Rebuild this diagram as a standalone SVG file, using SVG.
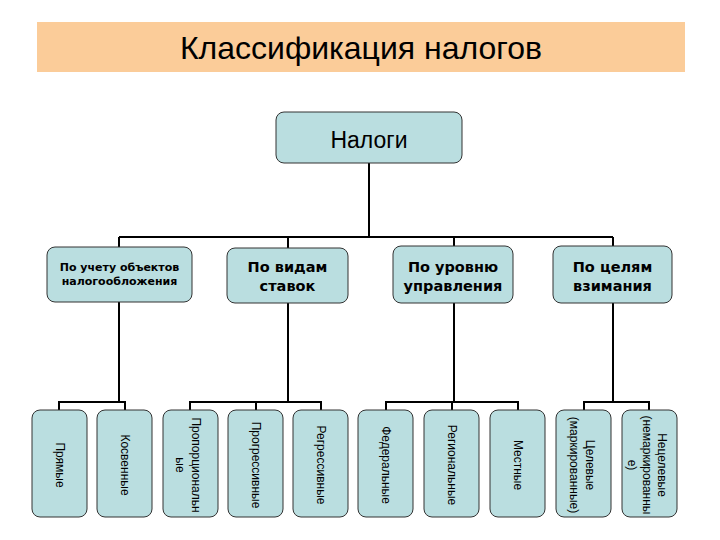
<svg xmlns="http://www.w3.org/2000/svg" width="720" height="540" viewBox="0 0 720 540">
<style>
.box{fill:#BADEE0;stroke:#333;stroke-width:1}
.l2{font-family:"DejaVu Sans",Verdana,sans-serif;font-weight:bold;fill:#000;text-anchor:middle}
.l3{font-family:"Liberation Sans",Arial,sans-serif;font-size:12px;fill:#000;text-anchor:middle}
.conn{fill:none;stroke:#000;stroke-width:2}
</style>
<rect width="720" height="540" fill="#fff"/>
<g id="title">
<rect x="37" y="22" width="648" height="50" fill="#FBCC99"/>
<text x="361" y="59" font-family="Liberation Sans, Arial, sans-serif" font-size="32" text-anchor="middle" fill="#000">Классификация налогов</text>
</g>
<g id="connectors">
<path class="conn" d="M369 163V237M119 237H613M119 237V247M288 237V248M454 237V246M613 237V246"/>
<path class="conn" d="M119 302V402M59 410V402H125V410"/>
<path class="conn" d="M288 303V402M190 410V402H321V410M256 402V410"/>
<path class="conn" d="M454 303V402M386 410V402H518V410M452 402V410"/>
<path class="conn" d="M613 303V402M584 410V402H649V410"/>
</g>
<g id="n-root">
<rect class="box" x="276" y="112" width="186" height="51" rx="8"/>
<text x="369" y="148" font-family="Liberation Sans, Arial, sans-serif" font-size="23" text-anchor="middle" fill="#000">Налоги</text>
</g>
<g id="n-objects">
<rect class="box" x="47" y="247" width="145" height="55" rx="8"/>
<text class="l2" x="119.5" y="271" font-size="11">По учету объектов</text>
<text class="l2" x="119.5" y="285" font-size="11">налогообложения</text>
</g>
<g id="n-rates">
<rect class="box" x="227" y="248" width="121" height="55" rx="8"/>
<text class="l2" x="287.5" y="272" font-size="14.5">По видам</text>
<text class="l2" x="287.5" y="291" font-size="14.5">ставок</text>
</g>
<g id="n-level">
<rect class="box" x="393" y="246" width="120" height="57" rx="8"/>
<text class="l2" x="453" y="272" font-size="14.5">По уровню</text>
<text class="l2" x="453" y="291" font-size="14.5">управления</text>
</g>
<g id="n-purpose">
<rect class="box" x="553" y="246" width="119" height="57" rx="8"/>
<text class="l2" x="612.5" y="272" font-size="14.5">По целям</text>
<text class="l2" x="612.5" y="291" font-size="14.5">взимания</text>
</g>
<g id="n-direct">
<rect class="box" x="32" y="410" width="55" height="107" rx="8"/>
<text class="l3" transform="translate(55.5,465) rotate(90)">Прямые</text>
</g>
<g id="n-indirect">
<rect class="box" x="97" y="410" width="55" height="107" rx="8"/>
<text class="l3" transform="translate(120.5,465) rotate(90)">Косвенные</text>
</g>
<g id="n-proportional">
<rect class="box" x="163" y="410" width="55" height="107" rx="8"/>
<text class="l3" transform="translate(192,465) rotate(90)">Пропорциональн</text>
<text class="l3" transform="translate(176,465) rotate(90)">ые</text>
</g>
<g id="n-progressive">
<rect class="box" x="228" y="410" width="55" height="107" rx="8"/>
<text class="l3" transform="translate(251.5,465) rotate(90)">Прогрессивные</text>
</g>
<g id="n-regressive">
<rect class="box" x="293" y="410" width="55" height="107" rx="8"/>
<text class="l3" transform="translate(316.5,465) rotate(90)">Регрессивные</text>
</g>
<g id="n-federal">
<rect class="box" x="358" y="410" width="55" height="107" rx="8"/>
<text class="l3" transform="translate(381.5,465) rotate(90)">Федеральные</text>
</g>
<g id="n-regional">
<rect class="box" x="424" y="410" width="55" height="107" rx="8"/>
<text class="l3" transform="translate(447.5,465) rotate(90)">Региональные</text>
</g>
<g id="n-local">
<rect class="box" x="490" y="410" width="55" height="107" rx="8"/>
<text class="l3" transform="translate(513.5,465) rotate(90)">Местные</text>
</g>
<g id="n-targeted">
<rect class="box" x="556" y="410" width="55" height="107" rx="8"/>
<text class="l3" transform="translate(586,465) rotate(90)">Целевые</text>
<text class="l3" transform="translate(570,465) rotate(90)">(маркированные)</text>
</g>
<g id="n-untargeted">
<rect class="box" x="622" y="410" width="55" height="107" rx="8"/>
<text class="l3" transform="translate(658,465) rotate(90)">Нецелевые</text>
<text class="l3" transform="translate(643,465) rotate(90)">(немаркированны</text>
<text class="l3" transform="translate(628,465) rotate(90)">е)</text>
</g>
</svg>
